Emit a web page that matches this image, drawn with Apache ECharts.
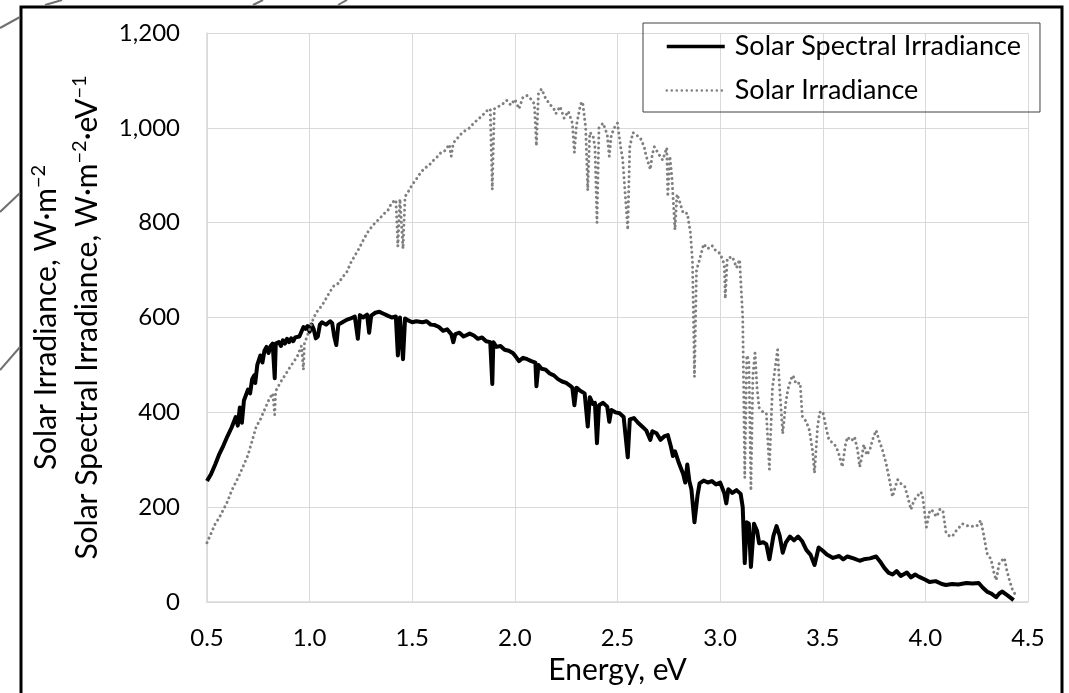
<!DOCTYPE html>
<html>
<head>
<meta charset="utf-8">
<title>Solar irradiance</title>
<script src="https://cdn.jsdelivr.net/npm/echarts@6/dist/echarts.min.js"></script>
<style>
  html, body { margin: 0; padding: 0; background: #fff; }
  #chart { width: 1069px; height: 693px; }
</style>
</head>
<body>
<div id="chart"></div>
<script>
// black curve: Solar Spectral Irradiance (W·m-2·eV-1)
var energySpectral = [
  0.50, 0.52, 0.54, 0.56, 0.58, 0.60, 0.62, 0.64, 0.65, 0.66, 0.67, 0.68, 0.70, 0.71, 0.72, 0.73, 0.735, 0.745, 0.76, 0.77,
  0.78, 0.79, 0.80, 0.81, 0.82, 0.83, 0.835, 0.85, 0.86, 0.87, 0.88, 0.89, 0.90, 0.91, 0.92, 0.93, 0.95, 0.96, 0.97, 0.98,
  0.99, 1.00, 1.01, 1.02, 1.03, 1.04, 1.05, 1.06, 1.08, 1.10, 1.11, 1.12, 1.13, 1.14, 1.16, 1.18, 1.20, 1.22, 1.235, 1.245,
  1.26, 1.28, 1.29, 1.30, 1.32, 1.34, 1.36, 1.38, 1.40, 1.42, 1.43, 1.44, 1.455, 1.465, 1.48, 1.50, 1.52, 1.55, 1.57, 1.59,
  1.61, 1.63, 1.65, 1.67, 1.69, 1.70, 1.71, 1.73, 1.75, 1.78, 1.80, 1.82, 1.84, 1.86, 1.88, 1.89, 1.895, 1.91, 1.93, 1.95,
  1.97, 1.99, 2.00, 2.02, 2.04, 2.06, 2.08, 2.10, 2.105, 2.115, 2.13, 2.15, 2.17, 2.19, 2.21, 2.23, 2.25, 2.27, 2.28, 2.29,
  2.30, 2.32, 2.34, 2.355, 2.365, 2.38, 2.39, 2.40, 2.41, 2.43, 2.45, 2.46, 2.47, 2.49, 2.51, 2.53, 2.55, 2.56, 2.58, 2.60,
  2.62, 2.64, 2.66, 2.67, 2.69, 2.71, 2.73, 2.745, 2.76, 2.77, 2.78, 2.80, 2.82, 2.83, 2.84, 2.85, 2.86, 2.875, 2.89, 2.90,
  2.92, 2.94, 2.96, 2.98, 3.00, 3.02, 3.03, 3.04, 3.06, 3.08, 3.10, 3.11, 3.12, 3.13, 3.14, 3.15, 3.165, 3.18, 3.19, 3.21,
  3.225, 3.24, 3.26, 3.275, 3.29, 3.305, 3.32, 3.34, 3.36, 3.38, 3.40, 3.42, 3.44, 3.46, 3.48, 3.50, 3.52, 3.55, 3.58, 3.60,
  3.62, 3.65, 3.68, 3.70, 3.73, 3.76, 3.78, 3.80, 3.82, 3.84, 3.86, 3.88, 3.91, 3.93, 3.95, 3.97, 4.00, 4.02, 4.05, 4.08,
  4.10, 4.13, 4.16, 4.20, 4.23, 4.26, 4.28, 4.30, 4.32, 4.345, 4.36, 4.375, 4.40, 4.43
]
var spectral = [
  255, 270, 290, 312, 330, 350, 368, 390, 372, 410, 378, 425, 448, 440, 470, 478, 462, 500, 520, 505,
  530, 538, 525, 540, 545, 472, 545, 548, 540, 552, 545, 555, 548, 556, 550, 558, 560, 570, 580, 576,
  582, 570, 585, 575, 556, 560, 585, 590, 585, 592, 588, 560, 542, 585, 590, 595, 598, 602, 555, 605,
  600, 606, 568, 604, 610, 612, 608, 604, 600, 602, 520, 600, 512, 598, 594, 590, 592, 590, 592, 585,
  584, 580, 572, 575, 565, 548, 565, 568, 560, 566, 562, 555, 558, 550, 548, 460, 548, 538, 540, 532,
  530, 525, 520, 508, 515, 512, 508, 505, 455, 500, 492, 490, 482, 478, 470, 465, 462, 456, 452, 415,
  452, 445, 440, 370, 432, 418, 420, 335, 415, 420, 412, 380, 405, 400, 398, 390, 305, 385, 388, 378,
  370, 362, 342, 360, 356, 342, 350, 352, 328, 308, 318, 292, 270, 252, 290, 255, 238, 168, 225, 250,
  256, 252, 255, 248, 252, 230, 208, 238, 230, 236, 228, 200, 82, 168, 165, 74, 165, 150, 124, 126,
  122, 90, 140, 160, 140, 104, 125, 138, 130, 138, 128, 110, 100, 78, 115, 108, 100, 93, 97, 90,
  96, 92, 87, 90, 92, 96, 85, 72, 62, 58, 65, 55, 62, 52, 58, 53, 47, 42, 44, 38,
  36, 38, 37, 40, 39, 40, 30, 22, 18, 10, 18, 22, 14, 4
]

// grey dotted curve: Solar Irradiance (W·m-2)
var energyIrr = [
  0.50, 0.52, 0.54, 0.56, 0.58, 0.60, 0.62, 0.64, 0.66, 0.68, 0.70, 0.72, 0.74, 0.76, 0.775, 0.79, 0.80, 0.82, 0.83, 0.835,
  0.86, 0.88, 0.90, 0.92, 0.94, 0.96, 0.97, 0.975, 1.00, 1.02, 1.04, 1.06, 1.08, 1.10, 1.12, 1.14, 1.16, 1.18, 1.20, 1.22,
  1.24, 1.26, 1.28, 1.30, 1.32, 1.34, 1.36, 1.38, 1.40, 1.42, 1.43, 1.44, 1.455, 1.465, 1.48, 1.50, 1.52, 1.54, 1.56, 1.58,
  1.60, 1.62, 1.64, 1.66, 1.68, 1.69, 1.70, 1.72, 1.74, 1.76, 1.78, 1.80, 1.82, 1.84, 1.86, 1.88, 1.89, 1.90, 1.92, 1.94,
  1.96, 1.98, 2.00, 2.02, 2.04, 2.06, 2.08, 2.095, 2.105, 2.115, 2.13, 2.15, 2.17, 2.19, 2.20, 2.22, 2.24, 2.26, 2.28, 2.29,
  2.30, 2.32, 2.33, 2.345, 2.355, 2.365, 2.38, 2.39, 2.40, 2.41, 2.43, 2.45, 2.46, 2.47, 2.49, 2.50, 2.515, 2.525, 2.55, 2.56,
  2.575, 2.59, 2.61, 2.63, 2.64, 2.66, 2.67, 2.68, 2.70, 2.72, 2.74, 2.745, 2.755, 2.765, 2.78, 2.79, 2.80, 2.82, 2.84, 2.855,
  2.865, 2.875, 2.885, 2.90, 2.92, 2.94, 2.96, 2.98, 3.00, 3.02, 3.025, 3.035, 3.06, 3.08, 3.095, 3.10, 3.11, 3.12, 3.13, 3.14,
  3.15, 3.16, 3.17, 3.18, 3.19, 3.21, 3.225, 3.24, 3.255, 3.27, 3.28, 3.29, 3.305, 3.32, 3.33, 3.345, 3.355, 3.37, 3.39, 3.40,
  3.42, 3.435, 3.45, 3.46, 3.475, 3.485, 3.50, 3.515, 3.53, 3.55, 3.565, 3.58, 3.595, 3.61, 3.62, 3.64, 3.655, 3.67, 3.68, 3.69,
  3.70, 3.715, 3.73, 3.745, 3.76, 3.775, 3.79, 3.81, 3.825, 3.84, 3.855, 3.865, 3.88, 3.90, 3.915, 3.93, 3.945, 3.96, 3.975, 3.985,
  4.005, 4.02, 4.03, 4.045, 4.055, 4.07, 4.085, 4.10, 4.115, 4.13, 4.15, 4.18, 4.21, 4.25, 4.27, 4.285, 4.30, 4.32, 4.335, 4.345,
  4.36, 4.385, 4.395, 4.41, 4.425, 4.435
]
var irradiance = [
  125, 145, 165, 178, 195, 212, 235, 252, 270, 290, 310, 340, 370, 385, 400, 415, 425, 440, 395, 445,
  465, 478, 492, 505, 518, 540, 490, 545, 575, 600, 615, 625, 640, 655, 668, 672, 685, 695, 715, 730,
  745, 762, 778, 790, 800, 808, 818, 825, 842, 848, 750, 850, 745, 855, 865, 880, 892, 905, 915, 920,
  930, 938, 948, 952, 965, 940, 968, 978, 988, 995, 1000, 1010, 1018, 1025, 1035, 1040, 870, 1040, 1045, 1050,
  1058, 1048, 1060, 1040, 1065, 1068, 1060, 1050, 962, 1072, 1082, 1062, 1050, 1040, 1030, 1045, 1020, 1035, 1010, 948,
  1005, 1050, 1055, 1000, 868, 990, 985, 960, 800, 1000, 1010, 985, 940, 985, 1005, 1010, 960, 935, 785, 960,
  990, 985, 980, 960, 940, 912, 945, 960, 945, 932, 958, 855, 940, 895, 785, 860, 848, 820, 820, 780,
  720, 475, 700, 722, 755, 745, 752, 740, 735, 712, 640, 725, 728, 705, 722, 680, 600, 262, 520, 510,
  235, 480, 525, 450, 410, 400, 398, 280, 452, 500, 532, 450, 355, 420, 448, 470, 478, 460, 462, 392,
  380, 362, 320, 272, 370, 400, 402, 370, 342, 335, 328, 310, 285, 330, 348, 340, 348, 320, 285, 305,
  332, 310, 322, 345, 362, 340, 322, 290, 258, 222, 245, 258, 250, 243, 220, 195, 215, 222, 232, 228,
  158, 190, 195, 185, 180, 195, 194, 148, 140, 138, 150, 165, 160, 160, 172, 140, 103, 90, 60, 46,
  82, 93, 70, 45, 25, 18
]

var xTicks = ['0.5', '1.0', '1.5', '2.0', '2.5', '3.0', '3.5', '4.0', '4.5']
var yTicks = ['0', '200', '400', '600', '800', '1,000', '1,200']

function pairs (xs, ys) {
  return xs.map(function (x, i) { return [x, ys[i]] })
}

var font = 'Lato'
var chart = echarts.init(document.getElementById('chart'))
var option = {
  backgroundColor: '#fff',
  animation: false,
  textStyle: { fontFamily: font },
  grid: { left: 207, right: 41, top: 33, bottom: 91 },
  legend: {
    orient: 'vertical',
    left: 643,
    top: 23,
    padding: [10, 19, 8, 22],
    itemGap: 17,
    itemWidth: 58,
    itemHeight: 26,
    borderColor: '#404040',
    borderWidth: 1,
    itemStyle: { color: 'transparent', borderWidth: 0 }, // hide the symbol in the line icon
    textStyle: { fontFamily: font, fontSize: 27, color: '#000', lineHeight: 26, padding: [0, 0, 0, 5] },
    data: [
      { name: 'Solar Spectral Irradiance', lineStyle: { width: 3.5 } },
      { name: 'Solar Irradiance', lineStyle: { width: 2.5 } }
    ]
  },
  xAxis: {
    type: 'value',
    min: 0.5,
    max: 4.5,
    interval: 0.5,
    name: 'Energy, eV',
    nameLocation: 'middle',
    nameGap: 52,
    nameTextStyle: { fontFamily: font, fontSize: 30, color: '#000' },
    axisLine: { show: true, lineStyle: { color: '#d9d9d9', width: 1.5 } },
    axisTick: { show: false },
    axisLabel: {
      margin: 24,
      fontSize: 24,
      color: '#000',
      formatter: function (v) { return xTicks[Math.round((v - 0.5) / 0.5)] }
    },
    splitLine: { show: true, lineStyle: { color: '#d9d9d9', width: 1 } }
  },
  yAxis: {
    type: 'value',
    min: 0,
    max: 1200,
    interval: 200,
    name: 'Solar Irradiance, W·m{sup|−2}\nSolar Spectral Irradiance, W·m{sup|−2}·eV{sup|−1}',
    nameLocation: 'middle',
    nameRotate: 90,
    nameGap: 95,
    nameTextStyle: {
      fontFamily: font,
      fontSize: 30,
      color: '#000',
      lineHeight: 41,
      align: 'center',
      rich: {
        sup: { fontFamily: font, fontSize: 20, color: '#000', lineHeight: 22, verticalAlign: 'top', padding: [3, 0, 0, 0] }
      }
    },
    axisLine: { show: true, lineStyle: { color: '#d9d9d9', width: 1.5 } },
    axisTick: { show: false },
    axisLabel: {
      margin: 27,
      fontSize: 24,
      color: '#000',
      formatter: function (v) { return yTicks[Math.round(v / 200)] }
    },
    splitLine: { show: true, lineStyle: { color: '#d9d9d9', width: 1 } }
  },
  series: [
    {
      name: 'Solar Spectral Irradiance',
      type: 'line',
      showSymbol: false,
      symbol: 'none',
      data: pairs(energySpectral, spectral),
      lineStyle: { color: '#000', width: 4, join: 'round' },
      itemStyle: { color: '#000' }
    },
    {
      name: 'Solar Irradiance',
      type: 'line',
      showSymbol: false,
      symbol: 'none',
      data: pairs(energyIrr, irradiance),
      lineStyle: { color: '#7f7f7f', width: 3, type: [0.01, 5], cap: 'round' },
      itemStyle: { color: '#7f7f7f' }
    }
  ],
  graphic: [
    // outer frame
    { type: 'rect', silent: true, shape: { x: 21, y: 7, width: 1041, height: 720 }, style: { fill: 'none', stroke: '#000', lineWidth: 3 } },
    // stray diagonal strokes outside the frame
    { type: 'line', silent: true, shape: { x1: 0, y1: 28, x2: 20, y2: 17 }, style: { stroke: '#707070', lineWidth: 2 } },
    { type: 'line', silent: true, shape: { x1: 45, y1: 5, x2: 62, y2: 0 }, style: { stroke: '#707070', lineWidth: 2 } },
    { type: 'line', silent: true, shape: { x1: 0, y1: 212, x2: 20, y2: 193 }, style: { stroke: '#707070', lineWidth: 2 } },
    { type: 'line', silent: true, shape: { x1: 0, y1: 370, x2: 20, y2: 347 }, style: { stroke: '#707070', lineWidth: 2 } },
    { type: 'line', silent: true, shape: { x1: 253, y1: 5, x2: 263, y2: 0 }, style: { stroke: '#707070', lineWidth: 2 } },
    { type: 'line', silent: true, shape: { x1: 338, y1: 5, x2: 347, y2: 0 }, style: { stroke: '#707070', lineWidth: 2 } }
  ]
}
chart.setOption(option)
</script>
</body>
</html>
